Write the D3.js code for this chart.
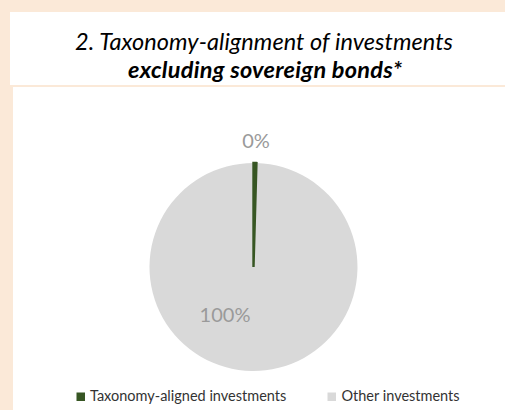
<!DOCTYPE html>
<html>
<head>
<meta charset="utf-8">
<script src="https://cdn.jsdelivr.net/npm/d3@7"></script>
<style>
  html, body { margin: 0; padding: 0; background: #FBE9D8; }
  svg { display: block; }
</style>
</head>
<body>
<svg id="chart" width="505" height="410"></svg>
<script>
// Share of investments (in %), excluding sovereign bonds
const categories = ["Taxonomy-aligned investments", "Other investments"];
const values = [0.45, 99.55];
const colors = ["#375623", "#D9D9D9"];
const titleLines = ["2. Taxonomy-alignment of investments", "excluding sovereign bonds*"];

const svg = d3.select("#chart");
const W = 505, H = 410;
const FONT = "Lato, 'Open Sans', sans-serif";

// page background and the two white panels
svg.append("rect").attr("width", W).attr("height", H).attr("fill", "#FBE9D8");
svg.append("rect").attr("x", 10).attr("y", 12).attr("width", W - 10).attr("height", 73).attr("fill", "#ffffff");
svg.append("rect").attr("x", 13).attr("y", 87).attr("width", W - 13).attr("height", H - 87).attr("fill", "#ffffff");

// title
svg.append("text")
  .attr("x", 264).attr("y", 50)
  .attr("text-anchor", "middle")
  .attr("font-family", FONT)
  .attr("font-style", "italic")
  .attr("font-size", 23.5)
  .attr("textLength", 378)
  .attr("lengthAdjust", "spacing")
  .attr("fill", "#000")
  .text(titleLines[0]);
svg.append("text")
  .attr("x", 265).attr("y", 78)
  .attr("text-anchor", "middle")
  .attr("font-family", FONT)
  .attr("font-style", "italic")
  .attr("font-weight", "bold")
  .attr("font-size", 23.5)
  .attr("textLength", 274)
  .attr("lengthAdjust", "spacing")
  .attr("fill", "#000")
  .text(titleLines[1]);

// pie
const cx = 253.5, cy = 267, r = 104;
const data = categories.map((c, i) => ({ name: c, value: values[i], color: colors[i] }));
const pie = d3.pie().value(d => d.value).sort(null);
const arc = d3.arc().innerRadius(0).outerRadius(r);
const arcs = pie(data);

const g = svg.append("g").attr("transform", `translate(${cx},${cy})`);
g.selectAll("path.slice")
  .data(arcs)
  .join("path")
  .attr("class", "slice")
  .attr("d", arc)
  .attr("fill", d => d.data.color)
  .attr("stroke", d => d.index === 0 ? d.data.color : "none")
  .attr("stroke-width", 2.4)
  .attr("stroke-linejoin", "miter");
// keep the thin slice on top
g.selectAll("path.slice").filter(d => d.index === 0).raise();

// data labels
const fmt = v => d3.format(".0%")(v / 100);
const labelPos = [
  { x: 256, y: 148 },   // outside, above the thin slice
  { x: 225, y: 322 }    // inside the large slice
];
svg.selectAll("text.lbl")
  .data(arcs)
  .join("text")
  .attr("class", "lbl")
  .attr("x", (d, i) => labelPos[i].x)
  .attr("y", (d, i) => labelPos[i].y)
  .attr("text-anchor", "middle")
  .attr("font-family", FONT)
  .attr("font-size", 20)
  .attr("fill", "#9a9a9a")
  .text(d => fmt(d.data.value));

// legend
const legendItems = [
  { x: 76.5, tx: 90 },
  { x: 327.5, tx: 341.5 }
];
const lg = svg.append("g");
data.forEach((d, i) => {
  lg.append("rect")
    .attr("x", legendItems[i].x).attr("y", 392.5)
    .attr("width", 8.5).attr("height", 8.5)
    .attr("fill", d.color);
  lg.append("text")
    .attr("x", legendItems[i].tx).attr("y", 400.5)
    .attr("font-family", FONT)
    .attr("font-size", 14.5)
    .attr("fill", "#333333")
    .text(d.name);
});
</script>
</body>
</html>
